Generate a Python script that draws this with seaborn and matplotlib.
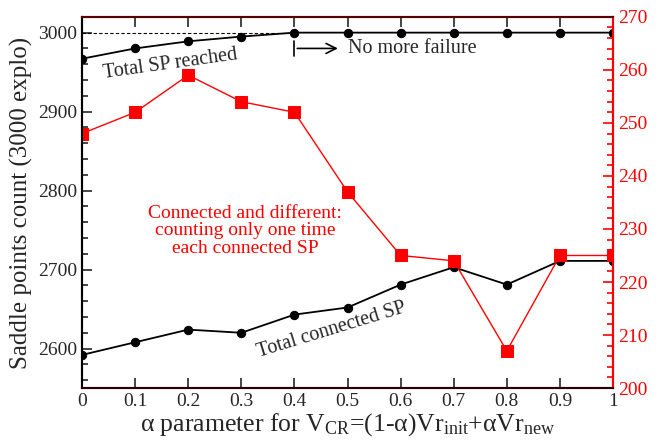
import numpy as np
import pandas as pd
import seaborn as sns
import matplotlib.pyplot as plt
from matplotlib.ticker import MultipleLocator

# data
alpha = [0, 0.1, 0.2, 0.3, 0.4, 0.5, 0.6, 0.7, 0.8, 0.9, 1.0]
total_reached = [2967, 2980, 2989, 2995, 3000, 3000, 3000, 3000, 3000, 3000, 3000]
total_connected = [2592, 2608, 2624, 2620, 2643, 2652, 2681, 2703, 2681, 2711, 2711]
connected_diff = [248, 252, 259, 254, 252, 237, 225, 224, 207, 225, 225]
xlabels = ['0', '0.1', '0.2', '0.3', '0.4', '0.5', '0.6', '0.7', '0.8', '0.9', '1']

sns.set_style("ticks")
plt.rcParams['font.family'] = ['Liberation Serif', 'DejaVu Serif']
plt.rcParams['mathtext.fontset'] = 'custom'
plt.rcParams['mathtext.rm'] = 'Liberation Serif'
plt.rcParams['mathtext.it'] = 'Liberation Serif:italic'
plt.rcParams['xtick.direction'] = 'in'
plt.rcParams['ytick.direction'] = 'in'

df = pd.DataFrame({'alpha': alpha, 'reached': total_reached,
                   'connected': total_connected, 'diff': connected_diff})

fig, ax = plt.subplots(figsize=(6.62, 4.43), dpi=100)
fig.subplots_adjust(left=0.124, right=0.926, top=0.962, bottom=0.124)

sns.lineplot(data=df, x='alpha', y='reached', ax=ax, color='black', marker='o',
             markersize=6, markeredgecolor='black', linewidth=1.3)
sns.lineplot(data=df, x='alpha', y='connected', ax=ax, color='black', marker='o',
             markersize=6, markeredgecolor='black', linewidth=1.3)
ax.plot([0, 0.4], [3000, 3000], ls='--', color='black', lw=0.8, dashes=(3, 2))

ax.set_xlim(0, 1)
ax.set_ylim(2550, 3020)
ax.yaxis.set_major_locator(MultipleLocator(100))
ax.yaxis.set_minor_locator(MultipleLocator(20))
ax.set_xticks(alpha)
ax.set_xticklabels(xlabels)
ax.tick_params(axis='both', which='major', length=7, width=1.2, labelsize=14, top=True)
ax.tick_params(axis='y', which='minor', length=4, width=1.2)
ax.set_xlabel('α parameter for V$_{\\rm CR}$=(1-α)Vr$_{\\rm init}$+αVr$_{\\rm new}$',
              fontsize=18.5, labelpad=1)
ax.set_ylabel('Saddle points count (3000 explo)', fontsize=18, labelpad=4)

ax2 = ax.twinx()
sns.lineplot(data=df, x='alpha', y='diff', ax=ax2, color='red', marker='s',
             markersize=8, markeredgecolor='red', linewidth=1.0)
ax2.set_ylim(200, 270)
ax2.yaxis.set_major_locator(MultipleLocator(10))
ax2.yaxis.set_minor_locator(MultipleLocator(2))
ax2.tick_params(axis='y', which='major', length=7, width=1.2, colors='red', labelsize=14, direction='in')
ax2.tick_params(axis='y', which='minor', length=4, width=1.2, colors='red', direction='in')
ax2.set_ylabel('')

for a in (ax, ax2):
    for s in a.spines.values():
        s.set_linewidth(1.5)
ax2.spines['right'].set_color('red')
ax2.spines['top'].set_color('#5a0000')
ax2.spines['bottom'].set_color('#2a0000')
ax2.spines['left'].set_color('black')

ax.text(0.166, 2960, 'Total SP reached', fontsize=14.5, rotation=8, ha='center', va='center')
ax.text(0.47, 2624, 'Total connected SP', fontsize=14.5, rotation=17, ha='center', va='center')
ax.text(0.307, 2749, 'Connected and different:\ncounting only one time\neach connected SP',
        fontsize=14, color='red', ha='center', va='center', linespacing=1.05)

ax.plot([0.4, 0.4], [2970, 2990], color='black', lw=1.2)
ax.annotate('', xy=(0.487, 2980), xytext=(0.4, 2980),
            arrowprops=dict(arrowstyle='->', color='black', lw=1.2, mutation_scale=18))
ax.text(0.5, 2980, 'No more failure', fontsize=14.5, ha='left', va='center')

fig.savefig('out.png', dpi=100)
